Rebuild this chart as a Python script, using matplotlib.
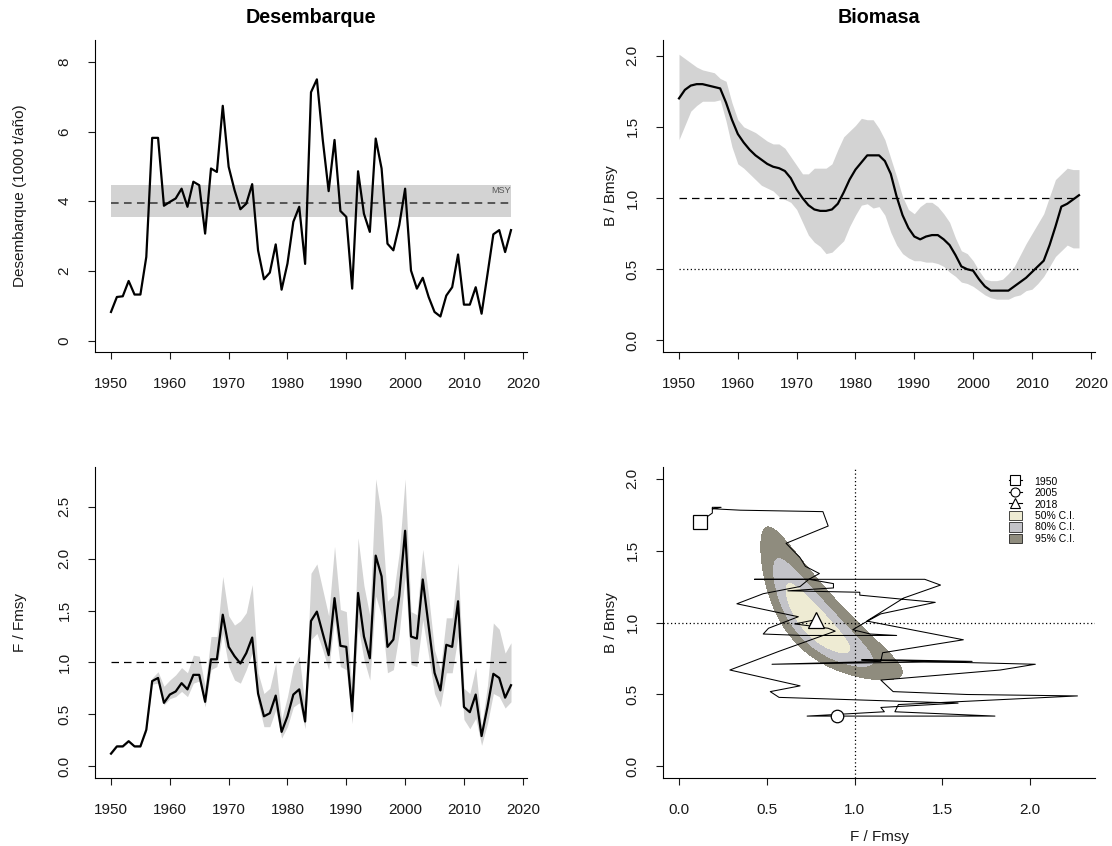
import numpy as np
import matplotlib
matplotlib.use("Agg")
import matplotlib.pyplot as plt
from matplotlib.lines import Line2D
from matplotlib.patches import Patch

plt.rcParams['font.family'] = ['Liberation Sans', 'DejaVu Sans']

# --- serie anual 1950-2018 ---
years = np.arange(1950, 2019)

# desembarque (1000 t/año)
catch = [0.82, 1.25, 1.27, 1.71, 1.32, 1.32, 2.40, 5.82, 5.82, 3.87,
         3.98, 4.08, 4.36, 3.84, 4.56, 4.46, 3.07, 4.94, 4.84, 6.74,
         4.99, 4.32, 3.77, 3.93, 4.49, 2.59, 1.76, 1.95, 2.76, 1.46,
         2.21, 3.41, 3.84, 2.20, 7.13, 7.50, 5.76, 4.29, 5.76, 3.72,
         3.55, 1.49, 4.86, 3.64, 3.12, 5.80, 4.94, 2.78, 2.59, 3.31,
         4.36, 2.01, 1.49, 1.80, 1.25, 0.82, 0.69, 1.29, 1.53, 2.47,
         1.03, 1.03, 1.53, 0.77, 1.90, 3.05, 3.17, 2.54, 3.17]
msy = 3.95
msy_lo, msy_hi = 3.55, 4.48

# B/Bmsy: mediana e intervalo
b_med = [1.70, 1.76, 1.79, 1.80, 1.80, 1.79, 1.78, 1.77, 1.67, 1.55,
         1.45, 1.39, 1.34, 1.30, 1.27, 1.24, 1.22, 1.21, 1.19, 1.14,
         1.06, 1.00, 0.95, 0.92, 0.91, 0.91, 0.92, 0.96, 1.04, 1.13,
         1.20, 1.25, 1.30, 1.30, 1.30, 1.26, 1.17, 1.01, 0.88, 0.79,
         0.73, 0.71, 0.73, 0.74, 0.74, 0.71, 0.67, 0.60, 0.52, 0.50,
         0.49, 0.43, 0.38, 0.35, 0.35, 0.35, 0.35, 0.38, 0.41, 0.44,
         0.48, 0.52, 0.56, 0.67, 0.80, 0.94, 0.96, 0.99, 1.02]
b_hi = [2.01, 1.98, 1.95, 1.92, 1.90, 1.89, 1.88, 1.84, 1.82, 1.67,
        1.55, 1.50, 1.48, 1.46, 1.43, 1.40, 1.38, 1.38, 1.35, 1.29,
        1.23, 1.17, 1.17, 1.21, 1.21, 1.21, 1.24, 1.34, 1.43, 1.47,
        1.51, 1.56, 1.55, 1.55, 1.49, 1.41, 1.28, 1.15, 1.01, 0.92,
        0.89, 0.94, 0.97, 0.97, 0.94, 0.89, 0.83, 0.72, 0.63, 0.61,
        0.56, 0.49, 0.43, 0.42, 0.42, 0.43, 0.47, 0.52, 0.60, 0.68,
        0.75, 0.82, 0.89, 1.01, 1.13, 1.17, 1.21, 1.20, 1.20]
b_lo = [1.41, 1.51, 1.61, 1.65, 1.68, 1.68, 1.68, 1.69, 1.54, 1.36,
        1.24, 1.21, 1.17, 1.13, 1.09, 1.07, 1.05, 1.01, 0.99, 0.97,
        0.92, 0.83, 0.74, 0.69, 0.66, 0.61, 0.62, 0.66, 0.70, 0.80,
        0.88, 0.95, 0.96, 0.93, 0.94, 0.88, 0.76, 0.67, 0.61, 0.58,
        0.56, 0.56, 0.55, 0.55, 0.54, 0.52, 0.48, 0.45, 0.41, 0.40,
        0.38, 0.35, 0.32, 0.30, 0.29, 0.29, 0.29, 0.31, 0.32, 0.35,
        0.36, 0.40, 0.45, 0.52, 0.59, 0.63, 0.67, 0.65, 0.65]

# F/Fmsy: mediana e intervalo
f_med = [0.12, 0.19, 0.19, 0.24, 0.19, 0.19, 0.35, 0.82, 0.85, 0.61,
         0.69, 0.72, 0.80, 0.74, 0.88, 0.88, 0.62, 1.03, 1.03, 1.46,
         1.15, 1.06, 0.99, 1.09, 1.24, 0.70, 0.48, 0.51, 0.68, 0.33,
         0.48, 0.69, 0.74, 0.43, 1.40, 1.49, 1.28, 1.07, 1.62, 1.16,
         1.15, 0.53, 1.67, 1.25, 1.04, 2.03, 1.83, 1.15, 1.22, 1.64,
         2.27, 1.25, 1.23, 1.80, 1.35, 0.90, 0.73, 1.17, 1.15, 1.59,
         0.57, 0.52, 0.69, 0.29, 0.57, 0.89, 0.85, 0.66, 0.78]
f_hi = [0.13, 0.20, 0.20, 0.25, 0.20, 0.20, 0.37, 0.85, 0.91, 0.77,
        0.83, 0.88, 0.95, 0.90, 1.07, 1.06, 0.77, 1.25, 1.25, 1.83,
        1.45, 1.36, 1.40, 1.48, 1.75, 0.90, 0.70, 0.75, 0.99, 0.45,
        0.67, 0.96, 1.06, 0.57, 1.86, 1.95, 1.70, 1.45, 2.12, 1.51,
        1.49, 0.70, 2.20, 1.74, 1.45, 2.77, 2.41, 1.59, 1.65, 2.06,
        2.77, 1.49, 1.46, 2.09, 1.64, 1.12, 0.93, 1.43, 1.43, 1.96,
        0.75, 0.70, 0.95, 0.38, 0.78, 1.38, 1.32, 1.09, 1.19]
f_lo = [0.11, 0.18, 0.18, 0.23, 0.18, 0.18, 0.33, 0.79, 0.80, 0.59,
        0.65, 0.67, 0.72, 0.67, 0.80, 0.82, 0.57, 0.93, 0.96, 1.28,
        0.96, 0.83, 0.80, 0.93, 1.09, 0.61, 0.38, 0.38, 0.54, 0.27,
        0.38, 0.57, 0.61, 0.36, 1.22, 1.28, 1.12, 0.93, 1.41, 0.96,
        0.93, 0.41, 1.35, 1.03, 0.83, 1.64, 1.45, 0.90, 0.93, 1.28,
        1.83, 0.98, 0.96, 1.41, 1.06, 0.70, 0.57, 0.90, 0.90, 1.25,
        0.45, 0.36, 0.46, 0.20, 0.41, 0.70, 0.67, 0.56, 0.62]

# incertidumbre del último año (lognormal bivariada)
kobe_center = (0.77, 1.00)      # F/Fmsy, B/Bmsy
kobe_sd_log = (0.205, 0.208)
kobe_rho = -0.83
ci_levels = [0.50, 0.80, 0.95]
ci_colors = ['#eeebd3', '#c3c3c8', '#8f8c7e']
mark_years = [1950, 2005, 2018]
mark_shapes = ['s', 'o', '^']

GREY = '#d3d3d3'
TXT = '#1a1a1a'


def style_axes(ax):
    for s in ('top', 'right'):
        ax.spines[s].set_visible(False)
    for s in ('left', 'bottom'):
        ax.spines[s].set_linewidth(0.8)
    ax.tick_params(direction='out', length=5, width=0.8, labelsize=11,
                   colors=TXT, pad=13)
    ax.tick_params(axis='y', labelrotation=90, pad=12)
    for lab in ax.get_yticklabels():
        lab.set_va('center')


def time_axes(ax):
    ax.set_xlim(1947.28, 2020.72)
    ax.set_xticks(np.arange(1950, 2021, 10))


fig = plt.figure(figsize=(11.12, 8.46), dpi=100)
W, H = 1112, 846


def add_ax(l, t, r, b):
    return fig.add_axes([l / W, 1 - b / H, (r - l) / W, (b - t) / H])


ax1 = add_ax(95, 40, 527, 352)
ax2 = add_ax(663, 40, 1095, 352)
ax3 = add_ax(95, 467, 527, 778)
ax4 = add_ax(663, 467, 1095, 778)

# Desembarque
ax1.fill_between([1950, 2018], msy_lo, msy_hi, color=GREY, lw=0)
ax1.plot([1950, 2018], [msy, msy], color='#333333', lw=1.1,
         linestyle=(0, (5, 3.5)))
ax1.plot(years, catch, color='black', lw=1.6)
ax1.text(2018, 4.3, 'MSY', ha='right', va='center', fontsize=6.5, color='#555555')
time_axes(ax1)
ax1.set_ylim(-0.33, 8.63)
ax1.set_yticks([0, 2, 4, 6, 8])
ax1.set_ylabel('Desembarque (1000 t/año)', fontsize=11, color=TXT)
ax1.set_title('Desembarque', fontsize=14.2, fontweight='bold', pad=12)

# Biomasa
ax2.fill_between(years, b_lo, b_hi, color=GREY, lw=0)
ax2.plot([1950, 2018], [1, 1], color='black', lw=0.9, linestyle=(0, (6, 4)))
ax2.plot([1950, 2018], [0.5, 0.5], color='black', lw=0.9, linestyle=(0, (1, 2)))
ax2.plot(years, b_med, color='black', lw=1.6)
time_axes(ax2)
ax2.set_ylim(-0.081, 2.11)
ax2.set_yticks([0, 0.5, 1.0, 1.5, 2.0])
ax2.set_yticklabels(['0.0', '0.5', '1.0', '1.5', '2.0'])
ax2.set_ylabel('B / Bmsy', fontsize=11, color=TXT)
ax2.set_title('Biomasa', fontsize=14.2, fontweight='bold', pad=12)

# Mortalidad por pesca
ax3.fill_between(years, f_lo, f_hi, color=GREY, lw=0)
ax3.plot([1950, 2018], [1, 1], color='black', lw=0.9, linestyle=(0, (6, 4)))
ax3.plot(years, f_med, color='black', lw=1.6)
time_axes(ax3)
ax3.set_ylim(-0.115, 2.885)
ax3.set_yticks([0, 0.5, 1.0, 1.5, 2.0, 2.5])
ax3.set_yticklabels(['0.0', '0.5', '1.0', '1.5', '2.0', '2.5'])
ax3.set_ylabel('F / Fmsy', fontsize=11, color=TXT)

# Diagrama de Kobe
fg, bg = np.meshgrid(np.linspace(0.2, 2.0, 400), np.linspace(0.3, 2.2, 400))
zx = (np.log(fg) - np.log(kobe_center[0])) / kobe_sd_log[0]
zy = (np.log(bg) - np.log(kobe_center[1])) / kobe_sd_log[1]
d2 = (zx ** 2 - 2 * kobe_rho * zx * zy + zy ** 2) / (1 - kobe_rho ** 2)
chi2 = [-2 * np.log(1 - p) for p in ci_levels]
ax4.contourf(fg, bg, d2, levels=[0] + chi2, colors=ci_colors, zorder=1)
ax4.axvline(1, color='black', lw=0.9, linestyle=(0, (1, 2)), zorder=2)
ax4.axhline(1, color='black', lw=0.9, linestyle=(0, (1, 2)), zorder=2)
ax4.plot(f_med, b_med, color='black', lw=0.75, zorder=3)
for yr, mk, ms in zip(mark_years, mark_shapes, [10, 9, 12]):
    i = yr - years[0]
    ax4.plot(f_med[i], b_med[i], marker=mk, ms=ms, mfc='white', mec='black',
             mew=0.9, ls='none', zorder=4)
ax4.set_xlim(-0.091, 2.37)
ax4.set_ylim(-0.08, 2.08)
ax4.set_xticks([0, 0.5, 1.0, 1.5, 2.0])
ax4.set_xticklabels(['0.0', '0.5', '1.0', '1.5', '2.0'])
ax4.set_yticks([0, 0.5, 1.0, 1.5, 2.0])
ax4.set_yticklabels(['0.0', '0.5', '1.0', '1.5', '2.0'])
ax4.set_xlabel('F / Fmsy', fontsize=11, color=TXT)
ax4.set_ylabel('B / Bmsy', fontsize=11, color=TXT)

handles = [Line2D([], [], color='black', lw=0.8, marker=m, ms=6.5, mfc='white',
                  mec='black', mew=0.8) for m in mark_shapes]
handles += [Patch(facecolor=c, edgecolor='black', lw=0.5) for c in ci_colors]
labels = [str(y) for y in mark_years] + ['%d%% C.I.' % int(p * 100) for p in ci_levels]
ax4.legend(handles, labels, loc='upper left', bbox_to_anchor=(0.80, 0.97),
           frameon=False, fontsize=7.5, handlelength=1.3, handleheight=1.0,
           handletextpad=1.2, labelspacing=0.12, borderpad=0, borderaxespad=0)

for ax in (ax1, ax2, ax3, ax4):
    style_axes(ax)
for ax in (ax1, ax3):
    ax.yaxis.set_label_coords(-0.174, 0.5)
    ax.yaxis.label.set_va('center')
for ax in (ax2, ax4):
    ax.yaxis.set_label_coords(-0.12, 0.5)
    ax.yaxis.label.set_va('center')
ax4.xaxis.set_label_coords(0.5, -0.19)
ax4.xaxis.label.set_va('center')

fig.savefig('out.png', dpi=100)
